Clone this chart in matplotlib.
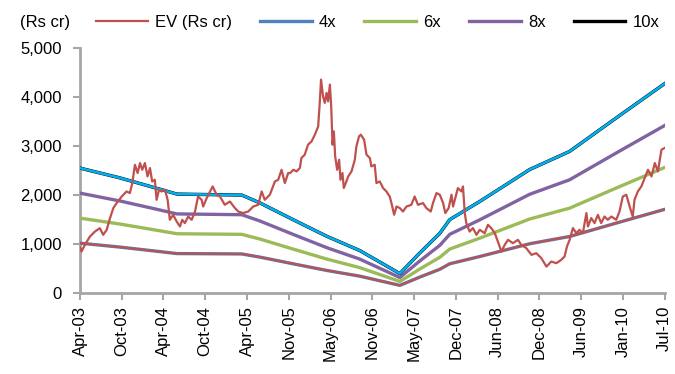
import numpy as np
import pandas as pd
import matplotlib
matplotlib.use("Agg")
import matplotlib.pyplot as plt
import matplotlib.dates as mdates

plt.rcParams['font.family'] = ['Liberation Sans', 'DejaVu Sans']
plt.rcParams['font.size'] = 12

# EV history (Rs cr)
ev_dates = [
    "2003-04-01", "2003-04-08", "2003-04-23", "2003-05-16", "2003-06-08", "2003-06-30",
    "2003-07-15", "2003-07-31", "2003-08-15", "2003-08-30", "2003-09-14", "2003-10-07",
    "2003-10-29", "2003-11-13", "2003-11-24", "2003-12-06", "2003-12-18", "2003-12-29",
    "2004-01-08", "2004-01-20", "2004-02-01", "2004-02-12", "2004-02-22", "2004-03-05",
    "2004-03-13", "2004-03-24", "2004-04-05", "2004-04-20", "2004-05-02", "2004-05-12",
    "2004-05-27", "2004-06-12", "2004-06-27", "2004-07-07", "2004-07-19", "2004-08-03",
    "2004-08-19", "2004-09-03", "2004-09-17", "2004-10-03", "2004-10-10", "2004-10-26",
    "2004-11-22", "2004-12-10", "2004-12-25", "2005-01-16", "2005-02-08", "2005-03-03",
    "2005-03-18", "2005-04-09", "2005-05-02", "2005-05-25", "2005-06-16", "2005-07-02",
    "2005-07-16", "2005-08-08", "2005-08-31", "2005-09-15", "2005-09-30", "2005-10-15",
    "2005-10-30", "2005-11-08", "2005-11-23", "2005-12-07", "2005-12-22", "2005-12-29",
    "2006-01-13", "2006-01-28", "2006-02-13", "2006-02-28", "2006-03-15", "2006-03-22",
    "2006-03-28", "2006-04-06", "2006-04-14", "2006-04-22", "2006-04-29", "2006-05-07",
    "2006-05-13", "2006-05-19", "2006-05-25", "2006-05-31", "2006-06-09", "2006-06-18",
    "2006-06-24", "2006-07-03", "2006-07-09", "2006-07-18", "2006-07-29", "2006-08-13",
    "2006-08-28", "2006-09-04", "2006-09-16", "2006-09-24", "2006-10-09", "2006-10-20",
    "2006-11-04", "2006-11-11", "2006-11-26", "2006-12-04", "2006-12-19", "2007-01-03",
    "2007-01-18", "2007-02-02", "2007-02-10", "2007-02-22", "2007-03-05", "2007-03-20",
    "2007-04-03", "2007-04-19", "2007-05-11", "2007-05-26", "2007-06-10", "2007-07-03",
    "2007-07-18", "2007-08-07", "2007-08-17", "2007-09-02", "2007-09-17", "2007-10-02",
    "2007-10-12", "2007-10-27", "2007-11-09", "2007-11-16", "2007-12-08", "2007-12-24",
    "2007-12-31", "2008-01-08", "2008-01-15", "2008-01-30", "2008-02-14", "2008-03-01",
    "2008-03-16", "2008-04-07", "2008-04-22", "2008-05-07", "2008-05-23", "2008-06-06",
    "2008-06-22", "2008-07-07", "2008-07-22", "2008-08-13", "2008-09-05", "2008-09-20",
    "2008-10-13", "2008-11-05", "2008-11-27", "2008-12-20", "2009-01-12", "2009-02-03",
    "2009-02-26", "2009-03-20", "2009-04-04", "2009-04-15", "2009-04-27", "2009-05-12",
    "2009-05-27", "2009-06-11", "2009-06-26", "2009-07-12", "2009-07-19", "2009-08-03",
    "2009-08-18", "2009-09-02", "2009-09-17", "2009-10-02", "2009-10-17", "2009-11-02",
    "2009-11-24", "2009-12-09", "2009-12-24", "2010-01-09", "2010-01-24", "2010-02-07",
    "2010-02-15", "2010-03-02", "2010-03-18", "2010-04-02", "2010-04-17", "2010-05-03",
    "2010-05-18", "2010-06-01", "2010-06-17", "2010-07-01",
]
ev_values = [
    930, 850, 986, 1155, 1258, 1326,
    1190, 1292, 1531, 1735, 1837, 1971,
    2074, 2041, 2245, 2618, 2449, 2653,
    2516, 2653, 2380, 2551, 2278, 2312,
    1904, 2108, 2074, 2108, 1904, 1496,
    1598, 1461, 1360, 1496, 1429, 1563,
    1496, 1665, 1971, 1904, 1767, 1939,
    2176, 2006, 1971, 1802, 1869, 1735,
    1665, 1633, 1665, 1767, 1802, 2074,
    1904, 2006, 2278, 2312, 2516, 2245,
    2449, 2449, 2516, 2482, 2551, 2755,
    2822, 3027, 3094, 3231, 3400, 3878,
    4353, 4012, 3878, 4082, 3910, 4251,
    3808, 3027, 3298, 2788, 2516, 2720,
    2312, 2449, 2143, 2245, 2380, 2482,
    2720, 2992, 3196, 3231, 3129, 2822,
    2755, 2584, 2618, 2245, 2278, 2143,
    2074, 1971, 1837, 1598, 1767, 1735,
    1665, 1767, 1802, 1971, 1802, 1837,
    1735, 1665, 1837, 2041, 2006, 1837,
    1633, 1735, 2006, 1767, 2143, 2074,
    2176, 1633, 1429, 1257, 1327, 1190,
    1292, 1224, 1394, 1327, 1224, 1053,
    849, 986, 1088, 1020, 1088, 986,
    918, 782, 816, 714, 543, 645,
    612, 680, 747, 951, 1088, 1327,
    1224, 1292, 1224, 1633, 1360, 1531,
    1429, 1598, 1429, 1563, 1496, 1563,
    1496, 1665, 1971, 2006, 1767, 1563,
    1904, 2074, 2176, 2347, 2516, 2380,
    2653, 2482, 2924, 2959,
]

# EBITDA (Rs cr) used for the multiple bands
ebitda_dates = [
    "2003-04-01", "2003-09-29", "2004-03-28", "2004-06-13", "2005-04-03", "2005-06-24",
    "2005-11-21", "2006-04-23", "2006-09-19", "2007-03-20", "2007-06-18", "2007-09-17",
    "2007-11-01", "2008-03-16", "2008-10-28", "2009-04-27", "2009-12-09", "2010-07-01",
]
ebitda_values = [255, 235, 212, 202, 200, 184, 150, 116, 87, 40, 82, 122,
                 150, 187, 252, 289, 362, 427]

multiples = [4, 6, 8, 10]
band_labels = ["4x", "6x", "8x", "10x"]
band_colors = ["#4F81BD", "#9BBB59", "#8064A2", "#000000"]

tick_labels = ["Apr-03", "Oct-03", "Apr-04", "Oct-04", "Apr-05", "Nov-05", "May-06",
               "Nov-06", "May-07", "Dec-07", "Jun-08", "Dec-08", "Jun-09", "Jan-10", "Jul-10"]

ev_x = pd.to_datetime(ev_dates)
eb_x = pd.to_datetime(ebitda_dates)
eb = np.array(ebitda_values, dtype=float)

fig = plt.figure(figsize=(6.75, 3.74), dpi=100)
ax = fig.add_axes([0.1185, 0.216, 0.866, 0.656])

ax.plot(ev_x, ev_values, color="#C0504D", lw=1.6, label="EV (Rs cr)", zorder=4)
for m, lab, col in zip(multiples, band_labels, band_colors):
    ax.plot(eb_x, eb * m, color=col, lw=2.4, label=lab, zorder=3)
# overlay series drawn on top of the 4x and 10x bands
ax.plot(eb_x, eb * 4, color="#C0504D", lw=1.5, zorder=3.5)
ax.plot(eb_x, eb * 10, color="#00B0F0", lw=1.9, zorder=3.5)

x0 = mdates.date2num(pd.Timestamp("2003-04-01"))
x1 = mdates.date2num(pd.Timestamp("2010-07-01"))
ax.set_xlim(x0, x1)
ax.set_xticks(np.linspace(x0, x1, len(tick_labels)))
ax.set_xticklabels(tick_labels, rotation=90)

ax.set_ylim(0, 5000)
ax.set_yticks(range(0, 5001, 1000))
ax.yaxis.set_major_formatter(matplotlib.ticker.FuncFormatter(lambda v, p: f"{int(v):,}"))

for s in ["top", "right"]:
    ax.spines[s].set_visible(False)
for s in ["left", "bottom"]:
    ax.spines[s].set_color("#A6A6A6")
    ax.spines[s].set_linewidth(2)
ax.tick_params(axis="both", colors="#A6A6A6", width=1.5, length=5, labelcolor="black",
               labelsize=12)
ax.tick_params(axis="y", pad=8)
ax.tick_params(axis="x", pad=4)

fig.text(0.03, 0.94, "(Rs cr)", fontsize=12, ha="left", va="center")
fig.legend(loc="center left", bbox_to_anchor=(0.142, 0.94), ncol=5, frameon=False,
           fontsize=12, handlelength=3.1, handletextpad=0.42, columnspacing=1.7,
           borderaxespad=0, borderpad=0)

fig.savefig("out.png", dpi=100)
